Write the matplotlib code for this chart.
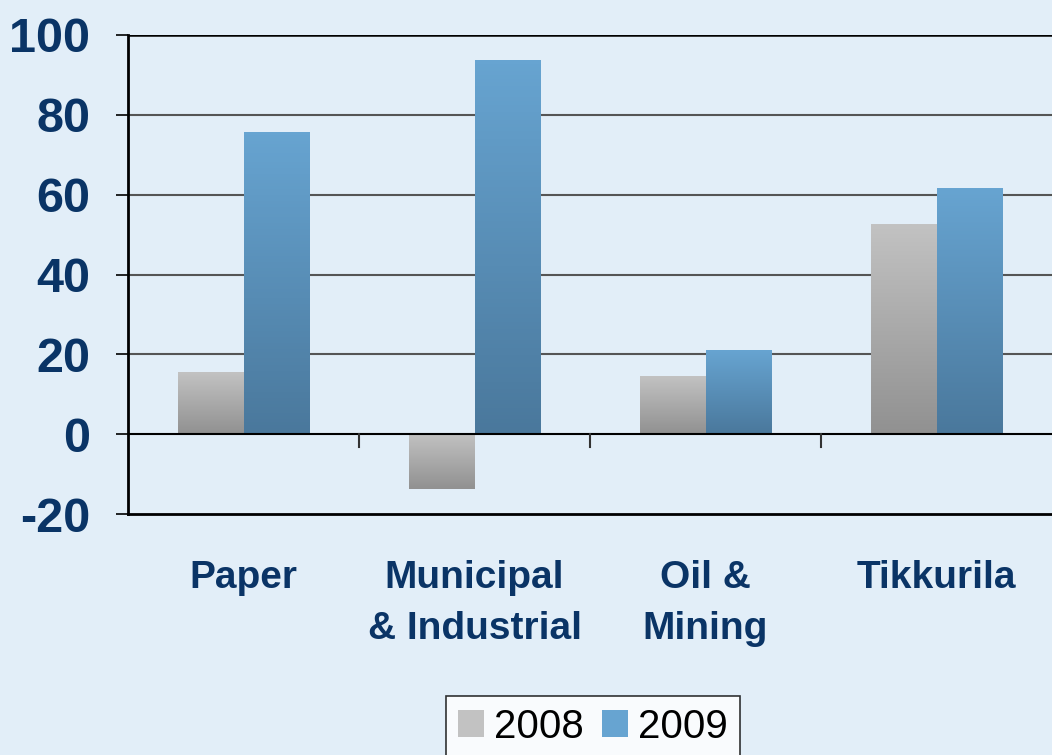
import numpy as np
import matplotlib
matplotlib.use("Agg")
import matplotlib.pyplot as plt
from matplotlib.patches import Patch

plt.rcParams['font.family'] = ['Liberation Sans', 'DejaVu Sans']

categories = ["Paper", "Municipal\n& Industrial", "Oil &\nMining", "Tikkurila"]
years = ["2008", "2009"]
values_2008 = [15.5, -13.8, 14.5, 52.5]
values_2009 = [75.5, 93.6, 20.8, 61.5]
yticks = [-20, 0, 20, 40, 60, 80, 100]

bg = "#e2eef8"
navy = "#0a3466"
grey_top, grey_bot = "#c2c2c2", "#919191"
blue_top, blue_bot = "#67a4d1", "#4a789c"

fig = plt.figure(figsize=(10.52, 7.55), dpi=100, facecolor=bg)
ax = fig.add_axes([128/1052, 1 - 514/755, 1 - 128/1052, (514 - 35)/755])
ax.set_facecolor(bg)

x = np.arange(len(categories))
w = 0.2857
bars1 = ax.bar(x - w/2, values_2008, w, color="none", zorder=3)
bars2 = ax.bar(x + w/2, values_2009, w, color="none", zorder=3)


def gradient(bars, top, bot):
    c1 = np.array(matplotlib.colors.to_rgb(top))
    c2 = np.array(matplotlib.colors.to_rgb(bot))
    t = np.linspace(0, 1, 100)[:, None]
    img = (c1 * (1 - t) + c2 * t)[:, None, :]
    for b in bars:
        x0 = b.get_x()
        y0, y1 = sorted([b.get_y(), b.get_y() + b.get_height()])
        ax.imshow(img, extent=[x0, x0 + b.get_width(), y0, y1],
                  aspect="auto", origin="upper", zorder=3)


gradient(bars1, grey_top, grey_bot)
gradient(bars2, blue_top, blue_bot)

ax.set_xlim(-0.5, len(categories) - 0.5)
ax.set_ylim(-20, 100)

# gridlines
for yv in yticks[2:-1]:
    ax.axhline(yv, color="#555555", lw=1.5, zorder=1)
ax.axhline(0, color="black", lw=1.5, zorder=4)
ax.axhline(100, color="black", lw=1.8, zorder=4)

# category separator ticks on the zero line
for b in np.arange(0.5, len(categories) - 0.5, 1):
    ax.plot([b, b], [0, -3.2], color="#333333", lw=1.5, zorder=4, clip_on=False)

for s in ["top", "right"]:
    ax.spines[s].set_visible(False)
ax.spines["left"].set_linewidth(2)
ax.spines["bottom"].set_linewidth(2)

ax.set_yticks(yticks)
ax.set_yticklabels([str(v) for v in yticks], fontsize=35, fontweight="bold", color=navy)
ax.tick_params(axis="y", length=9, width=1.2, pad=18)

ax.set_xticks(x)
ax.set_xticklabels(categories, fontsize=28, fontweight="bold", color=navy, linespacing=1.55)
ax.tick_params(axis="x", length=0, pad=33)

handles = [Patch(facecolor=grey_top, edgecolor="none"), Patch(facecolor=blue_top, edgecolor="none")]
leg = fig.legend(handles, years, loc="upper left", bbox_to_anchor=(446/1052, 1 - 696/755),
                 ncol=2, fontsize=29, frameon=True, fancybox=False, edgecolor="black",
                 handlelength=0.65, handleheight=0.65, handletextpad=0.25, columnspacing=0.45,
                 borderpad=0.3, borderaxespad=0)
leg.get_frame().set_linewidth(1.2)
leg.get_frame().set_facecolor("white")

fig.savefig("out.png", dpi=100, facecolor=bg)
